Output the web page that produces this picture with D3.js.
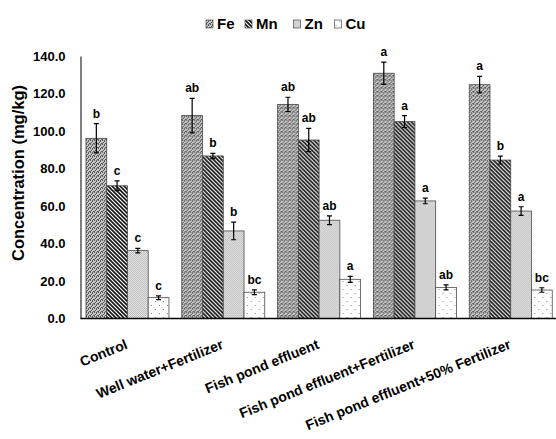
<!DOCTYPE html>
<html>
<head>
<meta charset="utf-8">
<script src="https://cdn.jsdelivr.net/npm/d3@7"></script>
<style>
  body { margin: 0; background: #fff; }
  text { font-family: "Liberation Sans", Arial, sans-serif; font-weight: bold; fill: #000; }
</style>
</head>
<body>
<div id="canvas"></div>
<script>
// chart data
var categories = ["Control", "Well water+Fertilizer", "Fish pond effluent", "Fish pond effluent+Fertilizer", "Fish pond effluent+50% Fertilizer"];
var elements = ["Fe", "Mn", "Zn", "Cu"];
var feValues = [96.1, 108.2, 114.2, 130.8, 124.7];
var mnValues = [70.8, 86.7, 95.2, 105.0, 84.5];
var znValues = [36.2, 46.7, 52.4, 62.7, 57.3];
var cuValues = [11.1, 14.0, 20.9, 16.6, 15.2];
var feErrors = [7.8, 9.2, 3.8, 5.9, 4.4];
var mnErrors = [2.6, 1.4, 6.2, 3.2, 2.1];
var znErrors = [1.2, 4.7, 2.3, 1.5, 2.3];
var cuErrors = [1.0, 1.3, 1.6, 1.3, 1.2];
var feLetters = ["b", "ab", "ab", "a", "a"];
var mnLetters = ["c", "b", "ab", "a", "b"];
var znLetters = ["c", "b", "ab", "a", "a"];
var cuLetters = ["c", "bc", "a", "ab", "bc"];
var yTicks = [0, 20, 40, 60, 80, 100, 120, 140];

var series = [
    { name: "Fe", values: feValues, errors: feErrors, letters: feLetters },
    { name: "Mn", values: mnValues, errors: mnErrors, letters: mnLetters },
    { name: "Zn", values: znValues, errors: znErrors, letters: znLetters },
    { name: "Cu", values: cuValues, errors: cuErrors, letters: cuLetters }
];

var w = 556, h = 439;
var svg = d3.select("#canvas").append("svg").attr("width", w).attr("height", h);
var defs = svg.append("defs");

// fill patterns (excel style)
var pFe = defs.append("pattern").attr("id", "pat-Fe").attr("patternUnits", "userSpaceOnUse").attr("width", 4).attr("height", 4);
pFe.append("rect").attr("width", 4).attr("height", 4).attr("fill", "#c4c4c4");
pFe.append("path").attr("d", "M0,0h1v1h-1z M2,1h1v1h-1z M1,2h1v1h-1z M3,3h1v1h-1z M0,3h1v1h-1z M2,0h1v1h-1z").attr("fill", "#5a5a5a");

var pMn = defs.append("pattern").attr("id", "pat-Mn").attr("patternUnits", "userSpaceOnUse").attr("width", 4).attr("height", 4);
pMn.append("rect").attr("width", 4).attr("height", 4).attr("fill", "#fff");
pMn.append("path").attr("d", "M-1,-1L5,5 M-1,3L1,5 M3,-1L5,1").attr("stroke", "#111").attr("stroke-width", 1.6);

var pZn = defs.append("pattern").attr("id", "pat-Zn").attr("patternUnits", "userSpaceOnUse").attr("width", 2).attr("height", 2);
pZn.append("rect").attr("width", 2).attr("height", 2).attr("fill", "#e6e6e6");
pZn.append("path").attr("d", "M0,0h1v1h-1z M1,1h1v1h-1z").attr("fill", "#bdbdbd");

var pCu = defs.append("pattern").attr("id", "pat-Cu").attr("patternUnits", "userSpaceOnUse").attr("width", 8).attr("height", 8);
pCu.append("rect").attr("width", 8).attr("height", 8).attr("fill", "#fff");
pCu.append("path").attr("d", "M1,1h1v1h-1z M5,5h1v1h-1z").attr("fill", "#8a8a8a");

// scales
var x0 = d3.scaleBand().domain(categories).range([80.5, 557.7]).paddingInner(0.134).paddingOuter(0.057);
var x1 = d3.scaleBand().domain(elements).range([0, x0.bandwidth()]);
var y = d3.scaleLinear().domain([0, 140]).range([318.5, 56]);

// y axis
var yAxis = svg.append("g").attr("transform", "translate(80.5,0)")
    .call(d3.axisLeft(y).tickValues(yTicks).tickSize(0).tickPadding(15).tickFormat(d3.format(".1f")));
yAxis.select(".domain").attr("stroke", "#000").attr("stroke-width", 1);
yAxis.selectAll("text").style("font-size", "13px").style("font-family", "Liberation Sans, Arial, sans-serif").style("font-weight", "bold");

svg.append("text")
    .attr("transform", "translate(23.5,173) rotate(-90)")
    .attr("text-anchor", "middle")
    .style("font-size", "16.5px")
    .text("Concentration (mg/kg)");

// bars
var groups = svg.append("g").selectAll("g").data(categories).join("g")
    .attr("transform", d => "translate(" + x0(d) + ",0)");

series.forEach(function(s) {
    var bx = x1(s.name);
    var bw = x1.bandwidth();
    groups.append("rect")
        .attr("x", bx)
        .attr("y", (d, i) => y(s.values[i]))
        .attr("width", bw)
        .attr("height", (d, i) => y(0) - y(s.values[i]))
        .attr("fill", "url(#pat-" + s.name + ")")
        .attr("stroke", "#4a4a4a")
        .attr("stroke-width", 0.8);

    // error bars
    var cx = bx + bw / 2;
    groups.append("path")
        .attr("d", function(d, i) {
            var top = y(s.values[i] + s.errors[i]), bot = y(s.values[i] - s.errors[i]);
            return "M" + cx + "," + top + "V" + bot + "M" + (cx - 2.5) + "," + top + "h5M" + (cx - 2.5) + "," + bot + "h5";
        })
        .attr("stroke", "#000")
        .attr("stroke-width", 1.2)
        .attr("fill", "none");

    // significance letters
    groups.append("text")
        .attr("x", cx)
        .attr("y", (d, i) => y(s.values[i] + s.errors[i]) - 6)
        .attr("text-anchor", "middle")
        .style("font-size", "12px")
        .text((d, i) => s.letters[i]);
});

// x axis line
svg.append("line").attr("x1", 80.5).attr("x2", 556).attr("y1", 318.5).attr("y2", 318.5)
    .attr("stroke", "#000").attr("stroke-width", 1.5);

// category labels
svg.append("g").selectAll("text").data(categories).join("text")
    .attr("transform", d => "translate(" + (x0(d) + x0.bandwidth() / 2 + 1) + ",348) rotate(-22)")
    .attr("text-anchor", "end")
    .style("font-size", "14px")
    .text(d => d);

// legend
var legendX = [206, 245, 293.5, 334.5];
var legend = svg.append("g").selectAll("g").data(elements).join("g")
    .attr("transform", (d, i) => "translate(" + legendX[i] + ",0)");
legend.append("rect").attr("x", 0).attr("y", 20).attr("width", 7).attr("height", 8)
    .attr("fill", d => "url(#pat-" + d + ")").attr("stroke", "#4a4a4a").attr("stroke-width", 0.7);
legend.append("text").attr("x", 11).attr("y", 29).style("font-size", "15px").text(d => d);
</script>
</body>
</html>
